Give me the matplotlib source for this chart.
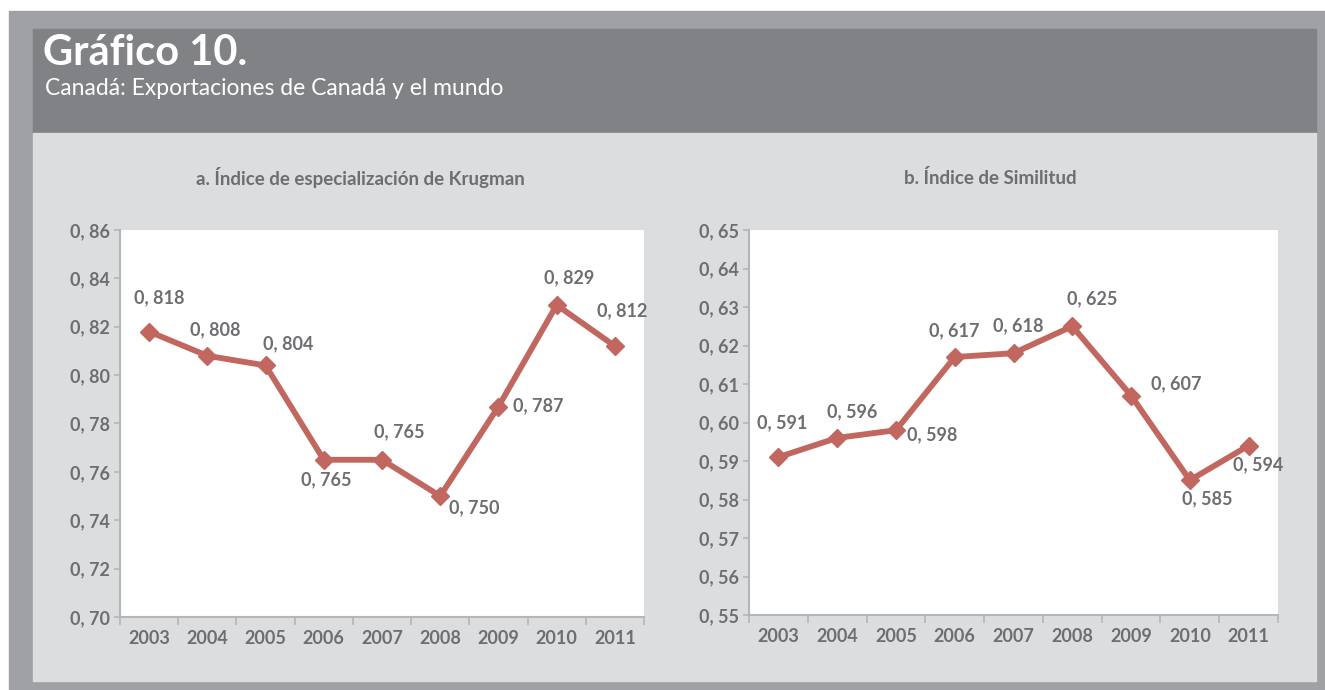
import matplotlib.pyplot as plt
from matplotlib.patches import Rectangle

plt.rcParams['font.family'] = ['Lato', 'DejaVu Sans']

years = ['2003', '2004', '2005', '2006', '2007', '2008', '2009', '2010', '2011']
krugman = [0.818, 0.808, 0.804, 0.765, 0.765, 0.750, 0.787, 0.829, 0.812]
similitud = [0.591, 0.596, 0.598, 0.617, 0.618, 0.625, 0.607, 0.585, 0.594]
krugman_ticks = [0.70, 0.72, 0.74, 0.76, 0.78, 0.80, 0.82, 0.84, 0.86]
similitud_ticks = [0.55, 0.56, 0.57, 0.58, 0.59, 0.60, 0.61, 0.62, 0.63, 0.64, 0.65]

# label offsets in pixels (dx, dy) per point
krugman_offsets = [(10, 34), (8, 26), (23, 22), (2, -20), (17, 28), (34, -12), (40, 1), (12, 27), (7, 35)]
similitud_offsets = [(4, 34), (15, 26), (36, -5), (0, 26), (5, 27), (20, 28), (45, 12), (17, -18), (10, -19)]

W, H = 1325, 690
line_col = '#c1675f'
text_col = '#6d6e71'

fig = plt.figure(figsize=(W / 100, H / 100), dpi=100)
fig.patch.set_facecolor('white')


def box(x0, y0, x1, y1, color):
    fig.patches.append(Rectangle((x0 / W, 1 - y1 / H), (x1 - x0) / W, (y1 - y0) / H,
                                 transform=fig.transFigure, color=color, zorder=-10))


box(9, 11, W, H, '#a0a1a5')
box(33, 29, 1316, 133, '#808285')
box(33, 133, 1316, 681, '#dcdddf')

fig.text(43 / W, 1 - 65 / H, 'Gráfico 10.', color='white', fontsize=30, fontweight='bold', va='baseline')
fig.text(45 / W, 1 - 95 / H, 'Canadá: Exportaciones de Canadá y el mundo', color='white', fontsize=16.5, va='baseline')


def panel(rect, title, values, ticks, offsets, title_x):
    x0, y0, x1, y1 = rect
    ax = fig.add_axes([x0 / W, 1 - y1 / H, (x1 - x0) / W, (y1 - y0) / H])
    ax.set_facecolor('white')
    xs = list(range(len(years)))
    ax.plot(xs, values, color=line_col, lw=4.2, marker='D', ms=9, mec=line_col, mfc=line_col)
    ax.set_xlim(-0.5, len(years) - 0.5)
    ax.set_ylim(ticks[0], ticks[-1])
    ax.set_yticks(ticks)
    ax.set_yticklabels(['0, ' + f'{t:.2f}'[2:] for t in ticks])
    ax.set_xticks(xs)
    ax.set_xticklabels(years)
    ax.set_xticks([i - 0.5 for i in range(len(years) + 1)], minor=True)
    ax.tick_params(axis='x', which='major', length=0, pad=9)
    ax.tick_params(axis='x', which='minor', length=6, color='#b5b6b8', width=1.2)
    ax.tick_params(axis='y', length=4, color='#b5b6b8', width=1.2, pad=3)
    for lab in ax.get_xticklabels() + ax.get_yticklabels():
        lab.set_color(text_col)
        lab.set_fontsize(13)
        lab.set_fontweight('bold')
    for s in ['top', 'right']:
        ax.spines[s].set_visible(False)
    for s in ['left', 'bottom']:
        ax.spines[s].set_color('#b5b6b8')
        ax.spines[s].set_linewidth(1.5)
    for i, (v, (dx, dy)) in enumerate(zip(values, offsets)):
        ax.annotate('0, ' + f'{v:.3f}'[2:], (i, v), xytext=(dx, dy), textcoords='offset pixels',
                    ha='center', va='center', color=text_col, fontsize=13, fontweight='bold')
    fig.text(title_x / W, 1 - 178 / H, title, ha='center', va='center', color=text_col,
             fontsize=13.5, fontweight='bold')
    return ax


panel((120, 230, 644, 617), 'a. Índice de especialización de Krugman', krugman, krugman_ticks,
      krugman_offsets, 360)
panel((749, 230, 1278, 615), 'b. Índice de Similitud', similitud, similitud_ticks,
      similitud_offsets, 990)

fig.savefig('out.png', dpi=100)
